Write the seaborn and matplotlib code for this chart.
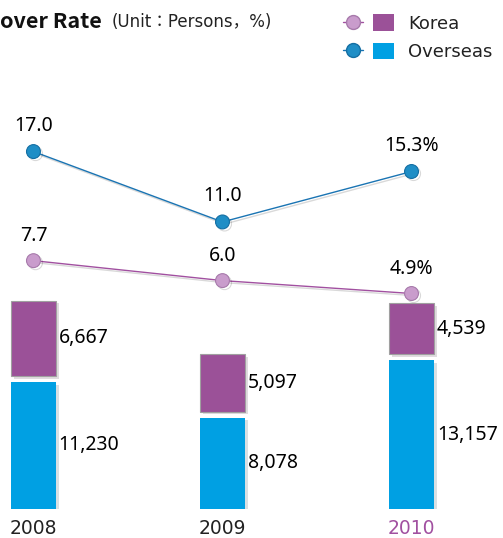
import numpy as np
import pandas as pd
import matplotlib
matplotlib.use("Agg")
import matplotlib.pyplot as plt
import matplotlib.patheffects as pe
from matplotlib.lines import Line2D
from matplotlib.patches import Patch
from matplotlib.legend_handler import HandlerTuple
import seaborn as sns

# data
years = ["2008", "2009", "2010"]
overseas_persons = [11230, 8078, 13157]
korea_persons = [6667, 5097, 4539]
overseas_rate = [17.0, 11.0, 15.3]
korea_rate = [7.7, 6.0, 4.9]
rate_labels_overseas = ["17.0", "11.0", "15.3%"]
rate_labels_korea = ["7.7", "6.0", "4.9%"]

PURPLE = "#9b5198"
BLUE = "#00a0e3"
LINE_BLUE = "#1a74b3"
LINE_PURPLE = "#a150a0"

sns.set_style("white")
plt.rcParams["font.family"] = ["Noto Sans", "Noto Sans CJK KR", "DejaVu Sans"]

df = pd.DataFrame({"year": years, "overseas": overseas_persons,
                   "korea": korea_persons})
rates = pd.DataFrame({"x": range(len(years)), "overseas": overseas_rate,
                      "korea": korea_rate})

fig = plt.figure(figsize=(5.03, 5.38), dpi=100)
ax = fig.add_axes([0, 29 / 538, 1, 509 / 538])

bar_w = 0.238
gap = 530  # small white gap between the two stacked parts
shadow = [pe.SimplePatchShadow(offset=(2, -2), alpha=0.15), pe.Normal()]

sns.barplot(data=df, x="year", y="overseas", color=BLUE, width=bar_w,
            saturation=1, ax=ax, linewidth=0)
for p in ax.patches:
    p.set_path_effects(shadow)
kb = ax.bar(range(len(years)), df["korea"], bottom=df["overseas"] + gap,
            width=bar_w, color=PURPLE, edgecolor="#a0a0a0", linewidth=0.8)
for p in kb:
    p.set_path_effects(shadow)

for i in range(len(years)):
    ax.annotate(f"{overseas_persons[i]:,}", (i + bar_w / 2, overseas_persons[i] / 2),
                xytext=(2, 0), textcoords="offset points", ha="left", va="center",
                fontsize=14, color="#000000")
    ax.annotate(f"{korea_persons[i]:,}",
                (i + bar_w / 2, overseas_persons[i] + gap + korea_persons[i] / 2),
                xytext=(2, 0), textcoords="offset points", ha="left", va="center",
                fontsize=14, color="#000000")

ax.set_xlim(-0.177, 2.484)
ax.set_ylim(0, 45000)
ax.set_xlabel("")
ax.set_ylabel("")
ax.set_yticks([])
for s in ax.spines.values():
    s.set_visible(False)
ax.tick_params(axis="x", length=0, pad=7.5, labelsize=13.5)
for lab in ax.get_xticklabels():
    lab.set_fontfamily(["DejaVu Sans"])
    lab.set_color("#222222")
ax.get_xticklabels()[-1].set_color(LINE_PURPLE)

# rates on a second scale
ax2 = ax.twinx()
sns.lineplot(data=rates, x="x", y="overseas", ax=ax2, color=LINE_BLUE, lw=1.0,
             marker="o", markersize=10, markerfacecolor="#1f8ec6",
             markeredgecolor="#156fa3", markeredgewidth=0.8)
sns.lineplot(data=rates, x="x", y="korea", ax=ax2, color=LINE_PURPLE, lw=1.0,
             marker="o", markersize=10, markerfacecolor="#c99ccc",
             markeredgecolor="#a77aab", markeredgewidth=0.8)
for ln in ax2.lines:
    ln.set_path_effects([pe.SimpleLineShadow(offset=(1.5, -1.5), alpha=0.15), pe.Normal()])

for i in range(len(years)):
    ax2.annotate(rate_labels_overseas[i], (i, overseas_rate[i]), xytext=(0, 18.5),
                 textcoords="offset points", ha="center", va="center",
                 fontsize=14, color="#000000")
    ax2.annotate(rate_labels_korea[i], (i, korea_rate[i]), xytext=(0, 18),
                 textcoords="offset points", ha="center", va="center",
                 fontsize=14, color="#000000")

ax2.set_ylim(-13.47, 29.92)
ax2.set_yticks([])
ax2.set_ylabel("")
ax2.set_xlabel("")
for s in ax2.spines.values():
    s.set_visible(False)

# title, only the part visible in the source
fig.text(0 / 503, 1 - 28 / 538, "over Rate", ha="left", va="baseline",
         fontsize=15.5, fontweight="bold", color="#111111",
         family=["Noto Sans CJK KR"])
fig.text(112 / 503, 1 - 27 / 538, "(Unit：Persons，%)", ha="left", va="baseline",
         fontsize=12, color="#222222", family=["DejaVu Sans", "Noto Sans CJK KR"])

handles = [
    (Line2D([], [], color=LINE_PURPLE, lw=1, marker="o", markersize=10,
            markerfacecolor="#c99ccc", markeredgecolor="#a77aab"),
     Patch(facecolor=PURPLE, edgecolor="none")),
    (Line2D([], [], color=LINE_BLUE, lw=1, marker="o", markersize=10,
            markerfacecolor="#1f8ec6", markeredgecolor="#156fa3"),
     Patch(facecolor=BLUE, edgecolor="none")),
]
leg = fig.legend(handles, ["Korea", "Overseas"], loc="upper left",
                 bbox_to_anchor=(343 / 503, 1 - 14.5 / 538), frameon=False,
                 borderpad=0, borderaxespad=0, handlelength=2.8,
                 handleheight=1.0, handletextpad=0.8, labelspacing=0.55,
                 prop={"family": "DejaVu Sans", "size": 13},
                 handler_map={tuple: HandlerTuple(ndivide=None, pad=0.55)})
for t in leg.get_texts():
    t.set_color("#222222")

fig.savefig("out.png", dpi=100)
